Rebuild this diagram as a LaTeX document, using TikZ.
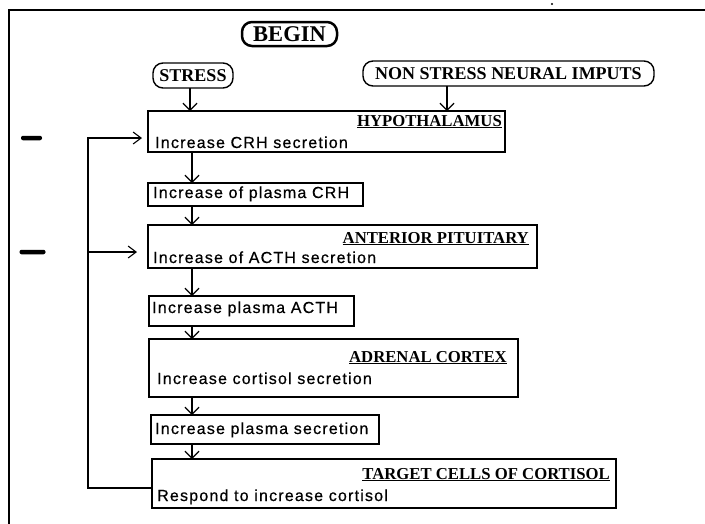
\documentclass[tikz,border=0pt]{standalone}
\usepackage{fontspec}
\setmainfont{Liberation Serif}
\newfontfamily\bodyfont[LetterSpace=7.5,FakeBold=0.6]{Liberation Sans}
\usetikzlibrary{arrows.meta}
\tikzset{
  box/.style={draw, line width=1.5pt, rectangle, inner sep=0pt, outer sep=0pt, anchor=north west},
  oval/.style={draw, line width=1.4pt, rounded corners=10pt, inner sep=0pt, outer sep=0pt,
               font=\bfseries\fontsize{18}{20}\selectfont},
  hdr/.style={font=\bfseries\fontsize{16.7}{18}\selectfont, inner sep=0pt, anchor=base east},
  bodytxt/.style={font=\bodyfont\fontsize{16}{18}\selectfont, inner sep=0pt, anchor=base west},
  varr/.style={line width=1.4pt, -{Straight Barb[length=7pt,width=14pt,line width=1.2pt]}},
  fb/.style={line width=1.1pt},
  fbarr/.style={fb, -{Straight Barb[length=8pt,width=12pt,line width=1.1pt]}},
  minusbar/.style={fill=black, rectangle, rounded corners=2pt, inner sep=0pt, minimum height=4.5pt}
}
\begin{document}
\begin{tikzpicture}[x=1pt,y=-1pt]
\useasboundingbox (0,0) rectangle (705,523);
\clip (0,0) rectangle (705,523);
% frame
\draw[line width=1.8pt] (9,540) -- (9,10) -- (720,10);
\node[circle, fill=black, inner sep=0pt, minimum size=2.2pt] (dot) at (552,4) {};
% ovals
\node[oval, line width=2.5pt, minimum width=95pt, minimum height=24pt,
      font=\bfseries\fontsize{22.5}{24}\selectfont] (begin) at (289.5,34) {BEGIN};
\node[oval, minimum width=80pt, minimum height=25pt] (stress) at (193,75.5) {STRESS};
\node[oval, minimum width=291pt, minimum height=25pt] (nonstress) at (508.5,73.5) {NON STRESS NEURAL IMPUTS};
% boxes
\node[box, minimum width=357pt, minimum height=41pt] (hyp) at (148,111) {};
\node[box, minimum width=215pt, minimum height=23pt] (crh) at (148,183) {};
\node[box, minimum width=389pt, minimum height=43pt] (ant) at (148,225) {};
\node[box, minimum width=205pt, minimum height=30pt] (acth) at (149,296) {};
\node[box, minimum width=369pt, minimum height=58pt] (adr) at (149,339) {};
\node[box, minimum width=228pt, minimum height=29pt] (pls) at (151,415) {};
\node[box, minimum width=464pt, minimum height=49pt] (tgt) at (152,459) {};
% texts
\node[hdr] (hypH) at (502,126) {\underline{HYPOTHALAMUS}};
\node[bodytxt] (hypT) at (155,148) {Increase CRH secretion};
\node[bodytxt] (crhT) at (153,198) {Increase of plasma CRH};
\node[hdr] (antH) at (529,243) {\underline{ANTERIOR PITUITARY}};
\node[bodytxt] (antT) at (153,263) {Increase of ACTH secretion};
\node[bodytxt] (acthT) at (152,313) {Increase plasma ACTH};
\node[hdr] (adrH) at (507,362) {\underline{ADRENAL CORTEX}};
\node[bodytxt] (adrT) at (157,384) {Increase cortisol secretion};
\node[bodytxt] (plsT) at (155,434) {Increase plasma secretion};
\node[hdr] (tgtH) at (610,479) {\underline{TARGET CELLS OF CORTISOL}};
\node[bodytxt] (tgtT) at (157,501) {Respond to increase cortisol};
% minus signs
\node[minusbar, minimum width=21pt] (minus1) at (31.5,138) {};
\node[minusbar, minimum width=26pt] (minus2) at (32.5,252) {};
% arrows
\coordinate (sx) at (190,0);
\coordinate (nx) at (447,0);
\coordinate (ax) at (192,0);
\draw[varr] (sx |- stress.south) -- (sx |- hyp.north);
\draw[varr] (nx |- nonstress.south) -- (nx |- hyp.north);
\draw[varr] (ax |- hyp.south) -- (ax |- crh.north);
\draw[varr] (ax |- crh.south) -- (ax |- ant.north);
\draw[varr] (ax |- ant.south) -- (ax |- acth.north);
\draw[varr] (ax |- acth.south) -- (ax |- adr.north);
\draw[varr] (ax |- adr.south) -- (ax |- pls.north);
\draw[varr] (ax |- pls.south) -- (ax |- tgt.north);
% feedback
\coordinate (fbx) at (88,0);
\coordinate (ytop) at (0,138);
\coordinate (ymid) at (0,252);
\coordinate (ybot) at (0,488);
\draw[fbarr, shorten >=6pt] (tgt.west |- ybot) -| (fbx |- ytop) -- (hyp.west |- ytop);
\draw[fbarr, shorten >=11pt] (fbx |- ymid) -- (ant.west |- ymid);
\end{tikzpicture}
\end{document}
